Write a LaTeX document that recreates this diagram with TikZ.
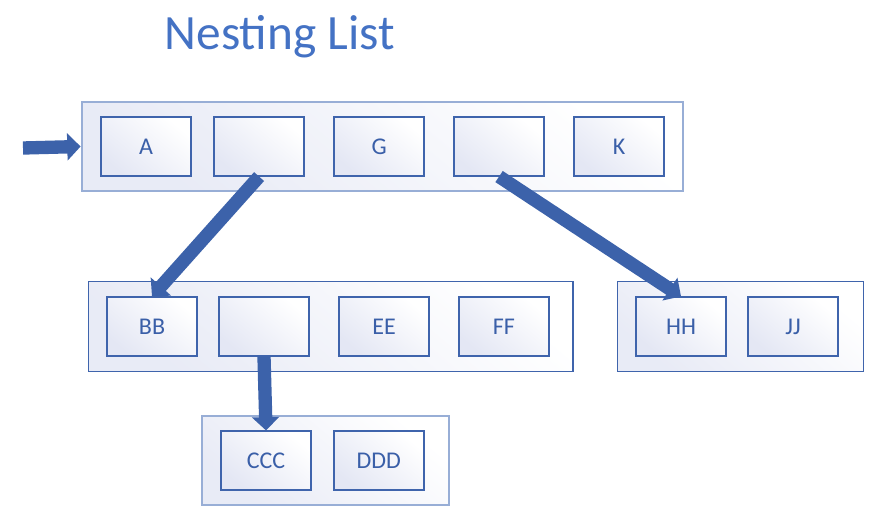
\documentclass[tikz,border=0pt]{standalone}
\usepackage{fontspec}
\setmainfont{Carlito}
\usepackage{xcolor}
\usepackage{tikz}
\usetikzlibrary{positioning,arrows.meta,fit,backgrounds}
\definecolor{title}{RGB}{68,114,196}
\definecolor{edge}{RGB}{63,100,172}
\definecolor{pale}{RGB}{152,174,214}
\definecolor{tint}{RGB}{228,231,244}
\definecolor{ink}{RGB}{58,95,168}
\definecolor{shaft}{RGB}{60,98,170}
\tikzset{
  cell/.style={draw=edge,line width=1.1pt,top color=white,bottom color=tint,shading angle=-40,
    font=\fontsize{18}{20}\selectfont,text=ink,minimum width=67.5pt,minimum height=44pt,inner sep=0pt},
  group/.style={draw=pale,line width=1.5pt,top color=white,bottom color=tint!85,shading angle=-40,
    inner xsep=14pt,inner ysep=11pt},
  groupdark/.style={group,draw=edge,line width=0.9pt},
  link/.style={-{Triangle[length=10pt,width=20pt]},draw=shaft,line width=10pt},
}
\begin{document}
\begin{tikzpicture}[x=0.75pt,y=-0.75pt,node distance=16pt and 21.4pt]
  \useasboundingbox (0,0) rectangle (880,516);
  \node[anchor=base west,text=title,font=\fontsize{37}{40}\selectfont] (head) at (160,50) {Nesting List};

  % top list
  \node[cell] (a) at (146,146.5) {A};
  \node[cell,right=16.2pt of a] (slot1) {};
  \node[cell,right=of slot1] (g) {G};
  \node[cell,right=of g] (slot2) {};
  \node[cell,right=of slot2] (k) {K};

  % second level
  \node[cell] (bb) at (152,326.5) {BB};
  \node[cell,right=15.4pt of bb] (slot3) {};
  \node[cell,right=of slot3] (ee) {EE};
  \node[cell,right=of ee] (ff) {FF};

  \node[cell] (hh) at (681,326.5) {HH};
  \node[cell,right=15.4pt of hh] (jj) {JJ};

  % third level
  \node[cell] (ccc) at (266,460.5) {CCC};
  \node[cell,right=16pt of ccc] (ddd) {DDD};

  \begin{scope}[on background layer]
    \node[group,fit=(a) (k)] (top) {};
    \node[groupdark,xshift=2pt,inner xsep=15.5pt,fit=(bb) (ff)] (mid) {};
    \node[groupdark,xshift=2.5pt,inner xsep=16pt,fit=(hh) (jj)] (side) {};
    \node[group,xshift=2.5pt,inner xsep=16pt,fit=(ccc) (ddd)] (low) {};
  \end{scope}

  \coordinate (entry) at (23,148);
  \draw[link] (entry) -- (top.west);
  \draw[link] (slot1.south) -- (bb.north);
  \draw[link] (slot2.south) -- (hh.north);
  \draw[link] (slot3.south) -- (ccc.north);
\end{tikzpicture}
\end{document}
